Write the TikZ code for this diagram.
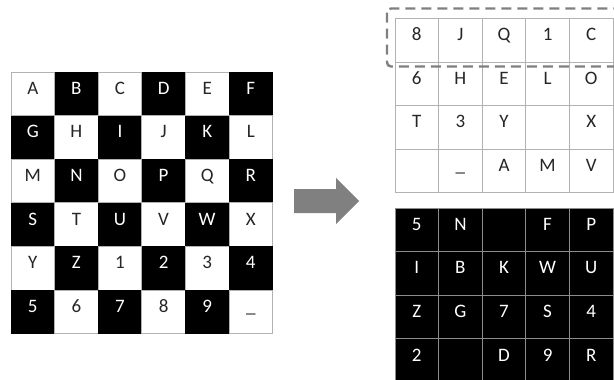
\documentclass[tikz,border=0pt]{standalone}
\usepackage{fontspec}
\setmainfont{Carlito}
\usetikzlibrary{positioning}
\tikzset{
  cell/.style={rectangle, minimum width=43.6pt, minimum height=43.6pt, inner sep=0pt,
    text height=6pt, text depth=5pt, font=\fontsize{19}{22}\selectfont},
  light/.style={cell, draw=black!30, line width=0.8pt, fill=white, text=black!85},
  dark/.style={cell, fill=black, text=white},
  darkgrid/.style={cell, draw=black!45, line width=0.8pt, fill=black, text=white},
  selbox/.style={draw=black!50, line width=2.4pt, dash pattern=on 10pt off 6pt, rounded corners=4pt},
  blockarrow/.style={fill=black!50}
}

\begin{document}
\begin{tikzpicture}[x=1pt, y=-1pt]
  \clip (0,0) rectangle (614,380);
  \fill[white] (0,0) rectangle (614,380);
  \def\cs{43.6}
  % checkerboard of the plain alphabet
  \foreach \lab [count=\i from 0] in {A,B,C,D,E,F,G,H,I,J,K,L,M,N,O,P,Q,R,
                                      S,T,U,V,W,X,Y,Z,1,2,3,4,5,6,7,8,9,\_}{
    \pgfmathtruncatemacro\r{floor(\i/6)}
    \pgfmathtruncatemacro\c{\i-6*\r}
    \pgfmathtruncatemacro\odd{mod(\r+\c,2)}
    \ifnum\odd=1 \def\sty{dark}\else\def\sty{light}\fi
    \node[\sty] (p-\r-\c) at ({11+\cs*(\c+0.5)},{72+\cs*(\r+0.5)}) {\lab};
  }
  % white squares, shuffled
  \foreach \lab [count=\i from 0] in {8,J,Q,1,C,6,H,E,L,O,T,3,Y,{},X,{},\_,A,M,V}{
    \pgfmathtruncatemacro\r{floor(\i/5)}
    \pgfmathtruncatemacro\c{\i-5*\r}
    \node[light] (w-\r-\c) at ({395+\cs*(\c+0.5)},{18.3+\cs*(\r+0.5)}) {\lab};
  }
  % black squares, shuffled
  \foreach \lab [count=\i from 0] in {5,N,{},F,P,I,B,K,W,U,Z,G,7,S,4,2,{},D,9,R}{
    \pgfmathtruncatemacro\r{floor(\i/5)}
    \pgfmathtruncatemacro\c{\i-5*\r}
    \node[darkgrid] (k-\r-\c) at ({395+\cs*(\c+0.5)},{208+\cs*(\r+0.5)}) {\lab};
  }
  \draw[selbox] (387,8.5) rectangle (660,66.5);
  % block arrow between the boards
  \coordinate (arr) at (294,201);
  \fill[blockarrow] (arr) ++(0,-12) -- ++(42,0) -- ++(0,-11) -- ++(23,23)
    -- ++(-23,23) -- ++(0,-11) -- ++(-42,0) -- cycle;
\end{tikzpicture}
\end{document}
